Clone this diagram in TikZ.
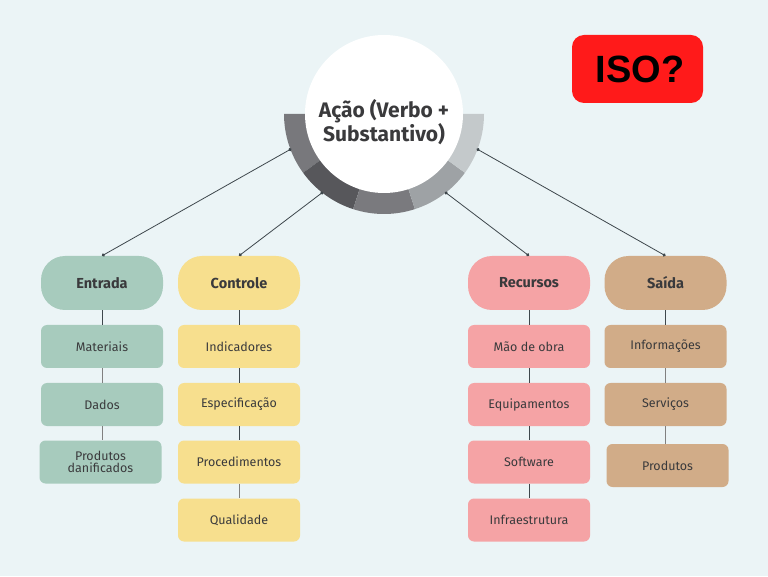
\documentclass[tikz,border=0pt]{standalone}
\usepackage{fontspec}
\setmainfont{Fira Sans}
\newfontfamily\isofont{Liberation Sans}
\usetikzlibrary{arrows.meta}
\definecolor{bg}{HTML}{EBF4F6}
\definecolor{cEnt}{HTML}{A7CBBD}
\definecolor{cCon}{HTML}{F7DF8E}
\definecolor{cRec}{HTML}{F5A3A5}
\definecolor{cSai}{HTML}{D1AC88}
\definecolor{ringA}{HTML}{78787C}
\definecolor{ringB}{HTML}{57575B}
\definecolor{ringC}{HTML}{7A7A7E}
\definecolor{ringD}{HTML}{9EA2A5}
\definecolor{ringE}{HTML}{C4C9CB}
\definecolor{txt}{HTML}{3A3A3C}
\definecolor{lnk}{HTML}{3E474C}
\definecolor{isored}{HTML}{FF1A1A}
\tikzset{
  header/.style={minimum width=122pt, minimum height=54pt, rounded corners=24pt, font=\bfseries\fontsize{14.5}{16}\selectfont, text=txt, inner sep=0pt},
  item/.style={minimum width=122pt, minimum height=43pt, rounded corners=6pt, font=\fontsize{12.5}{14}\selectfont, text=txt, inner sep=0pt, align=center},
  spoke/.style={draw=lnk, line width=0.8pt, {Circle[length=3.2pt]}-{Circle[length=3.2pt]}},
  stem/.style={draw=lnk, line width=0.9pt},
}
\begin{document}
\begin{tikzpicture}[x=1pt,y=1pt]
\fill[bg] (0,0) rectangle (768,576);
\useasboundingbox (0,0) rectangle (768,576);
% ring
\coordinate (C) at (384,462);
\fill[ringA] (C) -- ++(180:100) arc[start angle=180,end angle=216,radius=100] -- cycle;
\fill[ringB] (C) -- ++(216:100) arc[start angle=216,end angle=252,radius=100] -- cycle;
\fill[ringC] (C) -- ++(252:100) arc[start angle=252,end angle=288,radius=100] -- cycle;
\fill[ringD] (C) -- ++(288:100) arc[start angle=288,end angle=324,radius=100] -- cycle;
\fill[ringE] (C) -- ++(324:100) arc[start angle=324,end angle=360,radius=100] -- cycle;
\fill[white] (C) circle[radius=79];
\node[align=center, text=txt, inner sep=0pt,
  font=\bfseries\fontsize{21}{24}\selectfont] (acao) at (384,454) {Ação (Verbo +\\Substantivo)};
\path (C) ++(200.6:99) coordinate (pE);
\path (C) ++(232:99) coordinate (pC);
\path (C) ++(308:99) coordinate (pR);
\path (C) ++(339.4:99) coordinate (pS);
% ISO
\node[fill=isored, rounded corners=12pt, minimum width=131pt, minimum height=68pt, inner sep=0pt,
  font=\isofont\bfseries\fontsize{38}{40}\selectfont, text=black] (iso) at (637.5,507) {\hspace*{5pt}ISO?};
% headers
\node[header, fill=cEnt] (ent) at (102,293) {Entrada};
\node[header, fill=cCon] (con) at (239,293) {Controle};
\node[header, fill=cRec] (rec) at (529,293) {Recursos};
\node[header, fill=cSai] (sai) at (665.5,293) {Saída};
% Entrada items
\node[item, fill=cEnt] (e1) at (102,229.5) {Materiais};
\node[item, fill=cEnt] (e2) at (102,171.5) {Dados};
\node[item, fill=cEnt] (e3) at (100.5,114) {Produtos\\[-2pt]danificados};
% Controle items
\node[item, fill=cCon] (c1) at (239,229.5) {Indicadores};
\node[item, fill=cCon] (c2) at (239,171.5) {Especificação};
\node[item, fill=cCon] (c3) at (239,114) {Procedimentos};
\node[item, fill=cCon] (c4) at (239,56) {Qualidade};
% Recursos items
\node[item, fill=cRec] (r1) at (529,229.5) {Mão de obra};
\node[item, fill=cRec] (r2) at (529,171.5) {Equipamentos};
\node[item, fill=cRec] (r3) at (529,114) {Software};
\node[item, fill=cRec] (r4) at (529,56) {Infraestrutura};
% Saida items
\node[item, fill=cSai] (s1) at (665.5,229.5) {Informações};
\node[item, fill=cSai] (s2) at (665.5,171.5) {Serviços};
\node[item, fill=cSai] (s3) at (667.5,110.5) {Produtos};
% spokes
\draw[spoke] (pE) -- (ent.north);
\draw[spoke] (pC) -- (con.north);
\draw[spoke] (pR) -- (rec.north);
\draw[spoke] (pS) -- (sai.north);
% stems
\draw[stem] (ent.south) -- (e1.north);
\draw[stem, draw=gray] (e1.south) -- (e2.north);
\draw[stem, draw=gray] (e2.south) -- (e2.south |- e3.north);
\draw[stem] (con.south) -- (c1.north);
\draw[stem] (c1.south) -- (c2.north);
\draw[stem] (c2.south) -- (c3.north);
\draw[stem, draw=gray] (c3.south) -- (c4.north);
\draw[stem] (rec.south) -- (r1.north);
\draw[stem] (r1.south) -- (r2.north);
\draw[stem] (r2.south) -- (r3.north);
\draw[stem] (r3.south) -- (r4.north);
\draw[stem] (sai.south) -- (s1.north);
\draw[stem, draw=gray] (s1.south) -- (s2.north);
\draw[stem, draw=gray] (s2.south) -- (s2.south |- s3.north);
\end{tikzpicture}
\end{document}
